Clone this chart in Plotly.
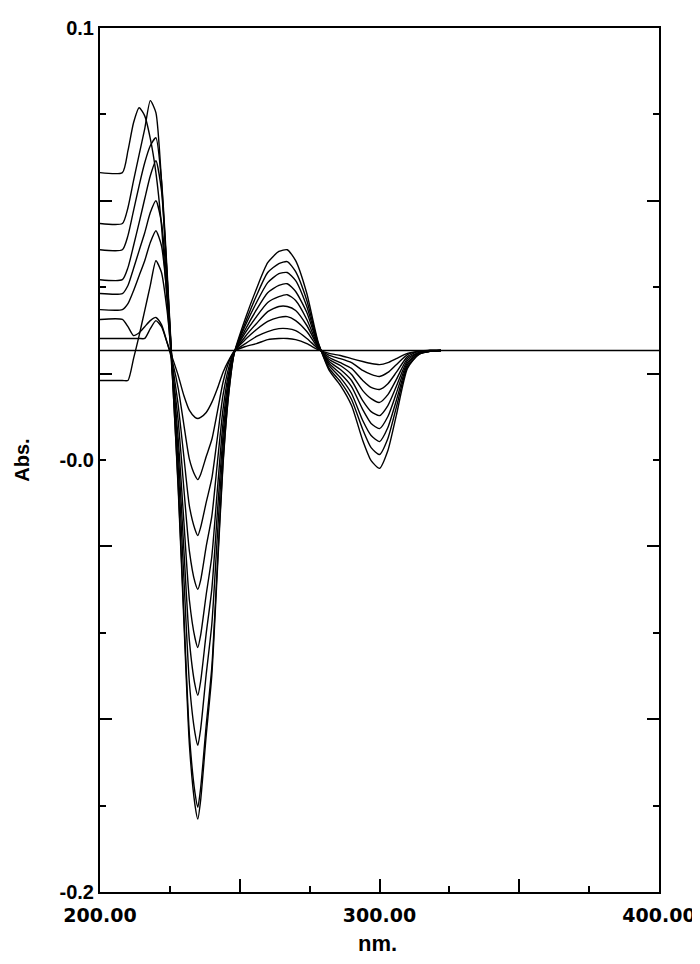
import plotly.graph_objects as go

# wavelength grid (nm) shared by the derivative spectra
wl = [200, 208, 210, 212, 214, 216, 218, 220, 222, 224, 226,
      228, 230, 232, 234, 235, 236, 238, 240, 242, 244, 246, 248,
      252, 256, 260, 264, 267, 270, 274, 278, 282, 286, 290, 294,
      297, 300, 303, 306, 310, 314, 318, 322]

# Abs. values, one list per spectrum
s1 = [-0.0078, -0.0078, -0.0078, -0.0078, -0.0078, -0.0078, -0.0044, -0.0016, -0.0037, -0.0092, -0.0148,
      -0.0207, -0.0276, -0.0328, -0.0352, -0.0356, -0.0352, -0.0335, -0.0300, -0.0252, -0.0196, -0.0155, -0.0123,
      -0.0106, -0.0096, -0.0082, -0.0078, -0.0078, -0.0082, -0.0096, -0.0117, -0.0130, -0.0137, -0.0148, -0.0158,
      -0.0165, -0.0169, -0.0162, -0.0148, -0.0130, -0.0123, -0.0120, -0.0120]
s2 = [-0.0012, -0.0012, -0.0037, -0.0068, -0.0058, -0.0037, -0.0016, -0.0005, -0.0030, -0.0092, -0.0162,
      -0.0252, -0.0377, -0.0498, -0.0554, -0.0568, -0.0550, -0.0488, -0.0429, -0.0332, -0.0231, -0.0162, -0.0123,
      -0.0096, -0.0071, -0.0054, -0.0044, -0.0044, -0.0051, -0.0078, -0.0113, -0.0137, -0.0148, -0.0162, -0.0189,
      -0.0203, -0.0210, -0.0196, -0.0169, -0.0134, -0.0123, -0.0120, -0.0120]
s3 = [-0.0224, -0.0224, -0.0224, -0.0148, -0.0068, 0.0019, 0.0106, 0.0192, 0.0151, 0.0019, -0.0172,
      -0.0311, -0.0488, -0.0661, -0.0741, -0.0762, -0.0734, -0.0647, -0.0564, -0.0422, -0.0276, -0.0182, -0.0123,
      -0.0082, -0.0047, -0.0019, -0.0005, -0.0002, -0.0016, -0.0054, -0.0110, -0.0144, -0.0162, -0.0182, -0.0224,
      -0.0248, -0.0255, -0.0235, -0.0196, -0.0141, -0.0123, -0.0120, -0.0120]
s4 = [0.0022, 0.0022, 0.0043, 0.0088, 0.0140, 0.0192, 0.0255, 0.0296, 0.0244, 0.0071, -0.0189,
      -0.0366, -0.0599, -0.0817, -0.0925, -0.0949, -0.0918, -0.0800, -0.0696, -0.0509, -0.0325, -0.0200, -0.0127,
      -0.0071, -0.0026, 0.0015, 0.0033, 0.0033, 0.0019, -0.0033, -0.0106, -0.0151, -0.0172, -0.0203, -0.0259,
      -0.0287, -0.0300, -0.0273, -0.0221, -0.0148, -0.0127, -0.0120, -0.0120]
s5 = [0.0078, 0.0078, 0.0106, 0.0165, 0.0227, 0.0289, 0.0359, 0.0400, 0.0324, 0.0106, -0.0196,
      -0.0429, -0.0713, -0.0988, -0.1119, -0.1151, -0.1109, -0.0967, -0.0835, -0.0602, -0.0373, -0.0217, -0.0127,
      -0.0058, -0.0002, 0.0047, 0.0067, 0.0074, 0.0054, -0.0012, -0.0103, -0.0158, -0.0186, -0.0224, -0.0294,
      -0.0332, -0.0346, -0.0311, -0.0245, -0.0155, -0.0127, -0.0123, -0.0120]
s6 = [0.0126, 0.0126, 0.0168, 0.0244, 0.0324, 0.0407, 0.0487, 0.0539, 0.0435, 0.0140, -0.0207,
      -0.0477, -0.0811, -0.1130, -0.1282, -0.1317, -0.1269, -0.1102, -0.0949, -0.0682, -0.0415, -0.0235, -0.0127,
      -0.0047, 0.0022, 0.0081, 0.0106, 0.0112, 0.0085, 0.0012, -0.0099, -0.0165, -0.0200, -0.0245, -0.0325,
      -0.0373, -0.0391, -0.0349, -0.0269, -0.0162, -0.0130, -0.0123, -0.0120]
s7 = [0.0230, 0.0230, 0.0279, 0.0366, 0.0453, 0.0532, 0.0591, 0.0619, 0.0470, 0.0158, -0.0207,
      -0.0529, -0.0908, -0.1276, -0.1449, -0.1491, -0.1435, -0.1244, -0.1071, -0.0762, -0.0457, -0.0252, -0.0130,
      -0.0033, 0.0047, 0.0116, 0.0147, 0.0151, 0.0123, 0.0033, -0.0096, -0.0172, -0.0214, -0.0269, -0.0363,
      -0.0415, -0.0436, -0.0387, -0.0294, -0.0169, -0.0130, -0.0123, -0.0120]
s8 = [0.0321, 0.0321, 0.0376, 0.0470, 0.0560, 0.0650, 0.0748, 0.0706, 0.0470, 0.0140, -0.0224,
      -0.0592, -0.1033, -0.1456, -0.1657, -0.1706, -0.1640, -0.1421, -0.1220, -0.0863, -0.0509, -0.0273, -0.0130,
      -0.0023, 0.0071, 0.0151, 0.0182, 0.0189, 0.0154, 0.0054, -0.0092, -0.0182, -0.0228, -0.0290, -0.0394,
      -0.0457, -0.0481, -0.0425, -0.0318, -0.0176, -0.0134, -0.0123, -0.0120]
s9 = [0.0498, 0.0498, 0.0574, 0.0671, 0.0723, 0.0695, 0.0616, 0.0498, 0.0314, 0.0054, -0.0224,
      -0.0606, -0.1057, -0.1491, -0.1699, -0.1747, -0.1682, -0.1456, -0.1248, -0.0883, -0.0519, -0.0276, -0.0130,
      -0.0009, 0.0095, 0.0185, 0.0224, 0.0230, 0.0192, 0.0078, -0.0089, -0.0189, -0.0241, -0.0311, -0.0432,
      -0.0502, -0.0529, -0.0467, -0.0346, -0.0182, -0.0134, -0.0123, -0.0120]

# blank spectrum, flat across the whole range
base_wl = [200, 400]
base_abs = [-0.0120, -0.0120]

fig = go.Figure()
for s in [s1, s2, s3, s4, s5, s6, s7, s8, s9]:
    fig.add_trace(go.Scatter(x=wl, y=s, mode="lines",
                             line=dict(color="black", width=1.4, shape="spline", smoothing=0.6)))
fig.add_trace(go.Scatter(x=base_wl, y=base_abs, mode="lines",
                         line=dict(color="black", width=1.4)))

xfont = dict(family="DejaVu Sans", size=19, color="black", weight="bold")
yfont = dict(family="Liberation Sans, Arial", size=20, color="black", weight="bold")

# page body has an 8px margin, so the margins are shifted by that amount
fig.update_layout(
    width=700, height=964,
    margin=dict(l=92, r=49, t=9, b=80),
    paper_bgcolor="white", plot_bgcolor="white",
    showlegend=False,
    xaxis=dict(
        range=[200, 400], showgrid=False, zeroline=False,
        showline=True, linecolor="black", linewidth=2, mirror=True,
        ticks="inside", ticklen=13, tickwidth=1.5, tickcolor="black",
        tickvals=[200, 250, 300, 350, 400],
        ticktext=["200.00", "", "300.00", "", "400.00"],
        tickfont=xfont, ticklabelstandoff=5,
        minor=dict(tickvals=[225, 275, 325, 375], ticks="inside",
                   ticklen=6, tickwidth=1.5, tickcolor="black"),
    ),
    yaxis=dict(
        range=[-0.2, 0.1], showgrid=False, zeroline=False,
        showline=True, linecolor="black", linewidth=2, mirror="ticks",
        ticks="inside", ticklen=6, tickwidth=1.5, tickcolor="black",
        tickvals=[0.1, 0.07, 0.01, -0.05, -0.11, -0.17, -0.2],
        ticktext=["0.1", "", "", "-0.0", "", "", "-0.2"],
        tickfont=yfont,
        minor=dict(tickvals=[0.04, -0.02, -0.08, -0.14], ticks="inside",
                   ticklen=12, tickwidth=1.5, tickcolor="black"),
    ),
    annotations=[
        dict(text="Abs.", xref="paper", yref="paper", x=-0.14, y=0.5,
             textangle=-90, showarrow=False, font=yfont,
             xanchor="center", yanchor="middle"),
        dict(text="nm.", xref="paper", yref="paper", x=0.497, y=-0.06,
             showarrow=False, font=dict(family="Liberation Sans, Arial", size=22,
                                        color="black", weight="bold"),
             xanchor="center", yanchor="middle"),
    ],
)

fig.write_html("out.html")
